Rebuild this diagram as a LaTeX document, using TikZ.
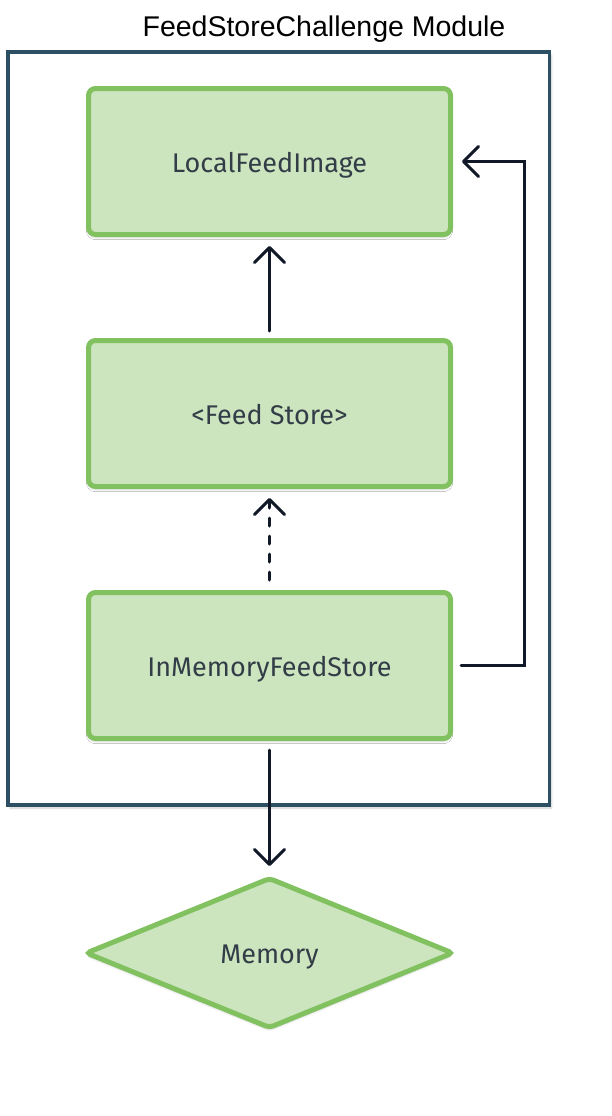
\documentclass[tikz,border=0pt]{standalone}
\usepackage{fontspec}
\setmainfont{Fira Sans}
\newfontfamily\titlefont{Liberation Sans}
\usetikzlibrary{arrows.meta,shapes.geometric,shadows.blur}
\definecolor{gborder}{HTML}{82C160}
\definecolor{gfill}{HTML}{CDE5BF}
\definecolor{frame}{HTML}{2C4F63}
\definecolor{ink}{HTML}{111827}
\definecolor{txt}{HTML}{333D47}
\tikzset{
  compbox/.style={draw=gborder, fill=gfill, line width=5pt, rounded corners=7pt,
    minimum width=362pt, minimum height=146pt, inner sep=0pt, text=txt,
    font=\fontsize{27}{31}\selectfont, text height=22pt, text depth=0pt,
    blur shadow={shadow xshift=0pt, shadow yshift=-3pt, shadow opacity=15, shadow blur steps=6}},
  memshape/.style={diamond, draw=gborder, fill=gfill, line width=5pt, rounded corners=4pt,
    minimum width=368pt, minimum height=151pt, inner sep=0pt, text=txt,
    font=\fontsize{27}{31}\selectfont, text height=20.5pt, text depth=0pt,
    blur shadow={shadow xshift=0pt, shadow yshift=-3pt, shadow opacity=15, shadow blur steps=6}},
  conn/.style={draw=ink, line width=3pt, line cap=round, line join=miter,
    -{Straight Barb[length=15pt,width=30pt,line cap=round,line join=round]}},
  dashconn/.style={conn, dash pattern=on 8pt off 10pt},
  framebox/.style={draw=frame, line width=3.5pt,
    blur shadow={shadow xshift=2pt, shadow yshift=-3pt, shadow opacity=20, shadow blur steps=6}},
}
\begin{document}
\begin{tikzpicture}[x=1pt,y=-1pt]
\useasboundingbox (0,0) rectangle (612,1116);
\node[font=\titlefont\fontsize{28.5}{32}\selectfont, anchor=base, inner sep=0pt] (title) at (324,36.7) {FeedStoreChallenge Module};
\path[framebox, fill=white] (8,52) rectangle (549.5,805);
\node[compbox] (b1) at (269.5,161.5) {LocalFeedImage};
\node[compbox] (b2) at (269.5,413.5) {<Feed Store>};
\node[compbox] (b3) at (269.5,665.5) {InMemoryFeedStore};
\node[memshape] (mem) at (269.5,953) {Memory};
\draw[conn, shorten <=7pt, shorten >=9pt] (b2) -- (b1);
\draw[dashconn, shorten <=10pt, shorten >=9pt] (b3) -- (b2);
\draw[conn, shorten <=8pt, shorten >=9pt] (b3.east) -| ([xshift=71pt]b1.east) -- (b1.east);
\draw[conn, shorten <=9pt, shorten >=9pt] (b3) -- (mem);
\end{tikzpicture}
\end{document}
